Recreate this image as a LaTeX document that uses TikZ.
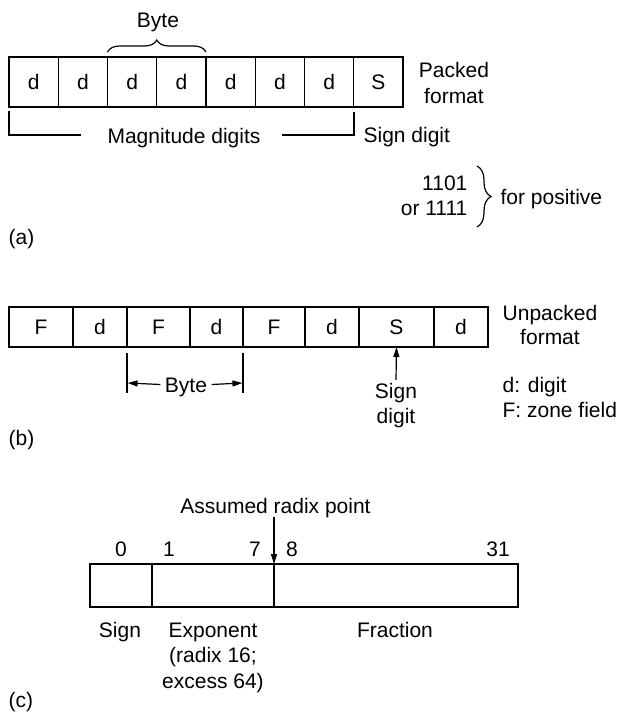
\documentclass[tikz,border=0pt]{standalone}
\usepackage{fontspec}
\setmainfont{Liberation Sans}
\usetikzlibrary{arrows.meta,decorations.pathreplacing}
\begin{document}
\begin{tikzpicture}[x=1pt,y=-1pt,line width=1.2pt,
  font=\fontsize{21}{26}\selectfont,
  cell/.style={draw,inner sep=0pt,outer sep=0pt,anchor=center},
  lbl/.style={inner sep=0pt,anchor=base},
  lbll/.style={inner sep=0pt,anchor=base west},
  lblr/.style={inner sep=0pt,anchor=base east},
  tip/.style={-{Triangle[length=10pt,width=6pt]}},
  bracebig/.style={decorate,decoration={brace,amplitude=12pt}}]
\useasboundingbox (0,0) rectangle (619,713);

% ---------- (a) packed ----------
\foreach \i/\t in {1/d,2/d,3/d,4/d,5/d,6/d,7/d,8/S}
  \node[cell,minimum width=49.25pt,minimum height=50pt] (a\i) at ({9+49.25*(\i-0.5)},82) {\t};
\coordinate (br1) at ([yshift=5pt]a3.north west);
\coordinate (br2) at ([yshift=5pt]a4.north east);
\draw[bracebig] (br1) -- (br2);
\node[lbl] (bytea) at (158,27.5) {Byte};
\node[lbl,align=center] (packed) at (454,103) {Packed\\format};
\node[lbl] (mag) at (184,143) {Magnitude digits};
\node[lbll] (signa) at (363,142) {Sign digit};
\coordinate (m1) at (9,111);
\coordinate (m2) at (9,135);
\coordinate (m3) at (81,135);
\coordinate (m4) at (282,135);
\coordinate (m5) at (354,135);
\coordinate (m6) at (354,112);
\draw (m1) -- (m2) -- (m3);
\draw (m4) -- (m5) -- (m6);
\node[lblr,align=right,font=\fontsize{21}{25}\selectfont] (codes) at (468,215) {1101\\or 1111};
\coordinate (cb1) at (477,166);
\coordinate (cb2) at (477,227);
\draw[decorate,decoration={brace,amplitude=14pt}] (cb1) -- (cb2);
\node[lbll] (pos) at (500,204.5) {for positive};
\node[lbll] (la) at (8,244) {(a)};

% ---------- (b) unpacked ----------
\foreach \i/\l/\r/\t in {1/9/73/F,2/73/127/d,3/127/190/F,4/190/243/d,5/243/305/F,6/305/359/d,7/359/434/S,8/434/488/d}
{
  \pgfmathsetmacro\w{\r-\l}
  \pgfmathsetmacro\cx{(\l+\r)/2}
  \node[cell,minimum width=\w pt,minimum height=40pt] (b\i) at (\cx,327) {\t};
}
\coordinate (t1a) at (127,353);
\coordinate (t1b) at (127,393);
\coordinate (t2a) at (243,353);
\coordinate (t2b) at (243,393);
\draw (t1a) -- (t1b);
\draw (t2a) -- (t2b);
\node[lbl] (byteb) at (186,392) {Byte};
\coordinate (ba1) at (127.6,383);
\coordinate (ba2) at (242.4,383);
\draw[tip] ([xshift=-4pt,yshift=7.5pt]byteb.base west) -- (ba1);
\draw[tip] ([xshift=4pt,yshift=7.5pt]byteb.base east) -- (ba2);
\node[lbl,align=center,font=\fontsize{21}{24.5}\selectfont] (signb) at (396,423) {Sign\\digit};
\coordinate (sb) at (396,380);
\draw[tip] (sb) -- (b7.south);
\node[lbl,align=center,font=\fontsize{21}{23.5}\selectfont] (unpacked) at (550,344) {Unpacked\\format};
\node[lbll,align=left,font=\fontsize{21}{25}\selectfont] (legend) at (502,417) {d: digit\\F: zone field};
\node[lbll] (lb) at (8,445) {(b)};

% ---------- (c) floating point ----------
\node[cell,minimum width=62pt,minimum height=43pt] (c1) at (121,585.5) {};
\node[cell,minimum width=122pt,minimum height=43pt] (c2) at (213,585.5) {};
\node[cell,minimum width=244pt,minimum height=43pt] (c3) at (396,585.5) {};
\node[lbl] (radix) at (275.5,513) {Assumed radix point};
\coordinate (ra) at (274,517);
\draw[tip] (ra) -- (c2.north east);
\node[lbl] (n0) at (121,556) {0};
\node[lbl] (n1) at (169,556) {1};
\node[lbl] (n7) at (255,556) {7};
\node[lbl] (n8) at (292,556) {8};
\node[lbl] (n31) at (498,556) {31};
\node[lbl] (sgn) at (120,637) {Sign};
\node[lbl,align=center,font=\fontsize{21}{25.5}\selectfont] (expo) at (213,688) {Exponent\\(radix 16;\\excess 64)};
\node[lbl] (frac) at (395,637) {Fraction};
\node[lbll] (lc) at (8,707) {(c)};
\end{tikzpicture}
\end{document}
